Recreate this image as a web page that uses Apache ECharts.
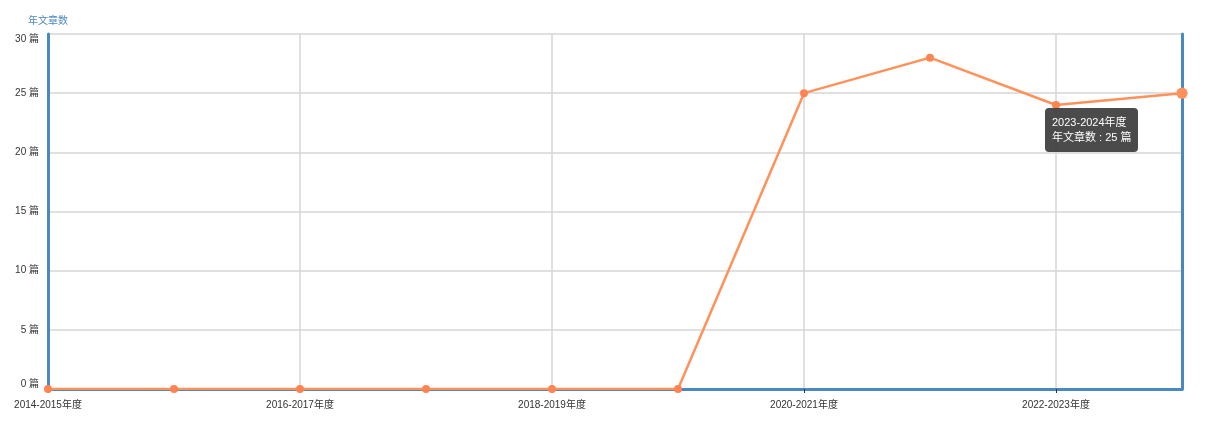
<!DOCTYPE html>
<html>
<head>
<meta charset="utf-8">
<script src="https://cdn.jsdelivr.net/npm/echarts@6/dist/echarts.min.js"></script>
<style>html,body{margin:0;padding:0;background:#fff}#c{width:1223px;height:438px}</style>
</head>
<body>
<div id="c"></div>
<script>
const categories = ['2014-2015年度','2015-2016年度','2016-2017年度','2017-2018年度','2018-2019年度','2019-2020年度','2020-2021年度','2021-2022年度','2022-2023年度','2023-2024年度'];
const values = [0,0,0,0,0,0,25,28,24,25];
const seriesName = '年文章数';
const unit = ' 篇';

const font = '"Liberation Sans", Arial, "Noto Sans CJK SC", sans-serif';
const chart = echarts.init(document.getElementById('c'));
chart.setOption({
  animation: false,
  textStyle: { fontFamily: font },
  grid: { left: 48, right: 41, top: 34, bottom: 49 },
  tooltip: {
    trigger: 'item',
    alwaysShowContent: true,
    backgroundColor: 'rgba(60,60,60,0.92)',
    borderWidth: 0,
    borderRadius: 4,
    padding: [7, 7],
    textStyle: { color: '#fff', fontSize: 11, fontFamily: font, lineHeight: 15 },
    extraCssText: 'box-shadow:none;line-height:15px;',
    position: function (pt) { return [pt[0] - 137, pt[1] + 15]; },
    formatter: function (p) { return p.name + '<br/>' + p.seriesName + ' : ' + p.value + unit; }
  },
  xAxis: {
    type: 'category',
    data: categories,
    boundaryGap: false,
    offset: 3,
    axisLine: { lineStyle: { color: '#4a89c0', width: 3 } },
    axisTick: { show: true, interval: 1, length: 4, lineStyle: { color: '#333', width: 1 } },
    axisLabel: { interval: 1, color: '#333', fontSize: 10, margin: 8 },
    splitLine: { show: true, interval: 1, lineStyle: { color: '#d6d6d6', width: 1.5 } }
  },
  yAxis: [{
    type: 'value',
    min: 0, max: 30, interval: 5,
    name: seriesName,
    nameGap: 8,
    nameTextStyle: { color: '#4a89c0', fontSize: 10 },
    axisLine: { show: true, lineStyle: { color: '#4a89c0', width: 3 } },
    axisTick: { show: false },
    axisLabel: { color: '#333', fontSize: 10, margin: 9, verticalAlignMinLabel: 'bottom', verticalAlignMaxLabel: 'top', formatter: function (v) { return v + unit; } },
    splitLine: { show: true, lineStyle: { color: '#d6d6d6', width: 1.5 } }
  }, {
    type: 'value',
    min: 0, max: 30, interval: 5,
    position: 'right',
    axisLine: { show: true, lineStyle: { color: '#4a89c0', width: 3 } },
    axisTick: { show: false },
    axisLabel: { show: false },
    splitLine: { show: false }
  }],
  series: [{
    name: seriesName,
    type: 'line',
    data: values,
    symbol: 'circle',
    symbolSize: 8,
    itemStyle: { color: '#ff8452' },
    lineStyle: { color: '#ff8452', width: 2.5 },
    emphasis: { scale: 1.4 }
  }]
});
setTimeout(function () {
  chart.dispatchAction({ type: 'highlight', seriesIndex: 0, dataIndex: 9 });
  chart.dispatchAction({ type: 'showTip', seriesIndex: 0, dataIndex: 9 });
}, 50);
</script>
</body>
</html>
